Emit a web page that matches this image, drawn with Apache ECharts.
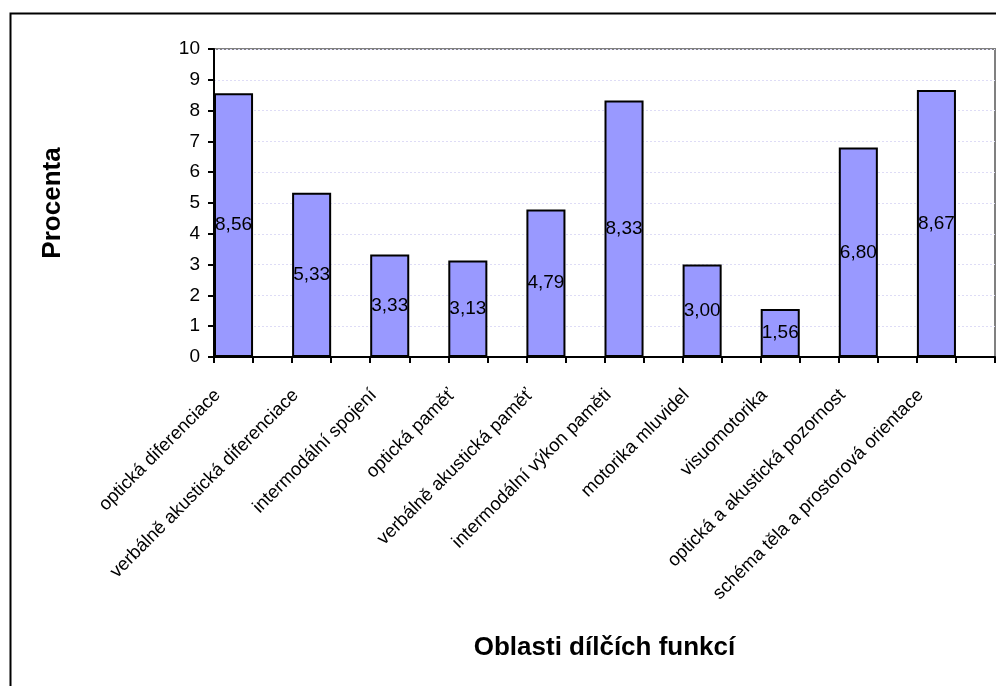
<!DOCTYPE html>
<html>
<head>
<meta charset="utf-8">
<title>Oblasti dílčích funkcí</title>
<script src="https://cdn.jsdelivr.net/npm/echarts@6/dist/echarts.min.js"></script>
<style>
  html, body { margin: 0; padding: 0; background: #fff; }
  #chart { width: 996px; height: 686px; }
</style>
</head>
<body>
<div id="chart"></div>
<script>
// Categories (functional areas) and their percentages
var categories = [
  'optická diferenciace',
  'verbálně akustická diferenciace',
  'intermodální spojení',
  'optická paměť',
  'verbálně akustická paměť',
  'intermodální výkon paměti',
  'motorika mluvidel',
  'visuomotorika',
  'optická a akustická pozornost',
  'schéma těla a prostorová orientace'
];
var values = [8.56, 5.33, 3.33, 3.13, 4.79, 8.33, 3.00, 1.56, 6.80, 8.67];
var yTicks = [0, 1, 2, 3, 4, 5, 6, 7, 8, 9, 10];

// Each category is split into two half-slots: the bar sits in the left one.
var slotCategories = [];
var slotValues = [];
categories.forEach(function (c, i) {
  slotCategories.push(c, '');
  slotValues.push(values[i], '-');
});

var FONT = "'Liberation Sans', Arial, sans-serif";

var chart = echarts.init(document.getElementById('chart'), null, { renderer: 'canvas' });

chart.setOption({
  backgroundColor: '#ffffff',
  animation: false,
  graphic: [{
    type: 'rect',
    left: 8, top: 11,
    shape: { width: 1000, height: 700 },
    style: { fill: 'none', stroke: '#000', lineWidth: 2 },
    silent: true
  }],
  grid: {
    left: 214, right: 1, top: 49, bottom: 329,
    show: true,
    borderColor: '#808080',
    borderWidth: 2,
    backgroundColor: '#fff'
  },
  xAxis: [{
    type: 'category',
    data: categories,
    boundaryGap: true,
    position: 'bottom',
    axisLine: { show: false },
    axisTick: { show: false },
    axisLabel: {
      interval: 0,
      rotate: 45,
      margin: 0,
      padding: [0, 50, 0, 0],
      color: '#000',
      fontFamily: FONT,
      fontSize: 18.5
    },
    name: 'Oblasti dílčích funkcí',
    nameLocation: 'middle',
    nameGap: 278,
    nameTextStyle: { color: '#000', fontFamily: FONT, fontSize: 26, fontWeight: 'bold' }
  }, {
    type: 'category',
    data: slotCategories,
    boundaryGap: true,
    position: 'bottom',
    axisLine: { show: true, lineStyle: { color: '#000', width: 2 } },
    axisTick: { show: true, interval: 0, length: 6, lineStyle: { color: '#000', width: 2 } },
    axisLabel: { show: false }
  }],
  yAxis: {
    type: 'value',
    min: yTicks[0],
    max: yTicks[yTicks.length - 1],
    interval: 1,
    axisLine: { show: true, lineStyle: { color: '#000', width: 2 } },
    axisTick: { show: true, length: 6, lineStyle: { color: '#000', width: 2 } },
    axisLabel: { color: '#000', fontFamily: FONT, fontSize: 19, margin: 14 },
    splitLine: { show: true, lineStyle: { color: '#dedcf6', width: 1, type: [2, 2] } },
    name: 'Procenta',
    nameLocation: 'middle',
    nameRotate: 90,
    nameGap: 148,
    nameTextStyle: { color: '#000', fontFamily: FONT, fontSize: 26, fontWeight: 'bold' }
  },
  series: [{
    type: 'bar',
    xAxisIndex: 1,
    data: slotValues,
    barCategoryGap: '0%',
    itemStyle: { color: '#9999ff', borderColor: '#000', borderWidth: 2 },
    label: {
      show: true,
      position: 'inside',
      color: '#000',
      fontFamily: FONT,
      fontSize: 19,
      formatter: function (p) { return Number(p.value).toFixed(2).replace('.', ','); }
    }
  }]
});
</script>
</body>
</html>
